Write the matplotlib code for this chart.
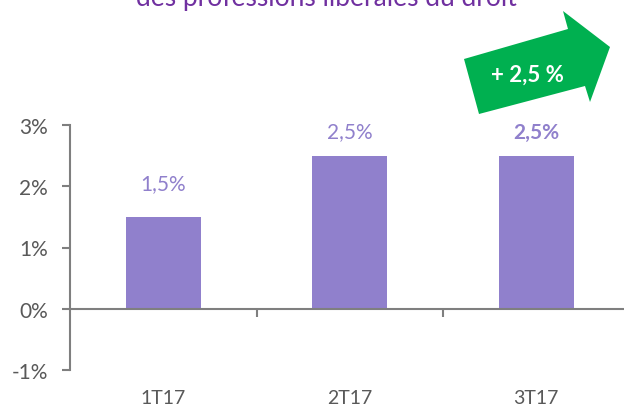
import matplotlib
matplotlib.use('Agg')
from matplotlib import pyplot as plt
from matplotlib.patches import Polygon
from matplotlib.ticker import FuncFormatter
from matplotlib.transforms import blended_transform_factory

categories = ['1T17', '2T17', '3T17']
values = [1.5, 2.5, 2.5]
value_labels = ['1,5%', '2,5%', '2,5%']
title = 'des professions libérales du droit'
badge = '+ 2,5 %'

plt.rcParams['font.family'] = ['Lato', 'DejaVu Sans']
plt.rcParams['axes.unicode_minus'] = False

bar_color = '#9080CC'
grey = '#595959'
spine_grey = '#7F7F7F'

fig = plt.figure(figsize=(6.24, 4.10), dpi=100)
ax = fig.add_axes([70/624, 1 - 371/410, 559.5/624, 245/410])

x = list(range(len(categories)))
ax.bar(x, values, width=0.4, color=bar_color, zorder=2)

ax.set_xlim(-0.5, 2.5)
ax.set_ylim(-1, 3)
ax.set_yticks([-1, 0, 1, 2, 3])
ax.yaxis.set_major_formatter(FuncFormatter(lambda v, p: f'{v:.0f}%'))
ax.tick_params(axis='y', direction='out', length=6, width=1.5, color=spine_grey,
               labelcolor=grey, labelsize=15, pad=10)

ax.spines['bottom'].set_position(('data', 0))
ax.spines['top'].set_visible(False)
ax.spines['right'].set_visible(False)
for s in ['left', 'bottom']:
    ax.spines[s].set_color(spine_grey)
    ax.spines[s].set_linewidth(1.5)
ax.set_xticks([0.5, 1.5])
ax.set_xticklabels([])
ax.tick_params(axis='x', direction='out', length=6, width=1.5, color=spine_grey)

# category labels under the chart
trans = blended_transform_factory(ax.transData, ax.transAxes)
for i, c in enumerate(categories):
    ax.text(i, -0.113, c, transform=trans, ha='center', va='center',
            color=grey, fontsize=14)

# value labels
offsets = [20, 13, 13]
for i, (v, lab) in enumerate(zip(values, value_labels)):
    ax.annotate(lab, (i, v), xytext=(0, offsets[i]), textcoords='offset points',
                ha='center', va='baseline', color=bar_color, fontsize=15,
                fontweight='bold' if i == 2 else 'normal')

# title (top line cut by the frame)
fig.text(326/624, 1 - 6/410, title, ha='center', va='baseline',
         color='#7030A0', fontsize=19)

# green arrow badge
pts = [(464, 60), (568, 30), (563, 12), (610, 48), (590, 103), (585, 87), (479, 115)]
arrow = Polygon([(px/624, 1 - py/410) for px, py in pts], closed=True,
                transform=fig.transFigure, facecolor='#00B050', edgecolor='none')
fig.patches.append(arrow)
fig.text(527/624, 1 - 75/410, badge, ha='center', va='center',
         color='white', fontsize=16, fontweight='bold')

plt.savefig('out.png', dpi=100)
